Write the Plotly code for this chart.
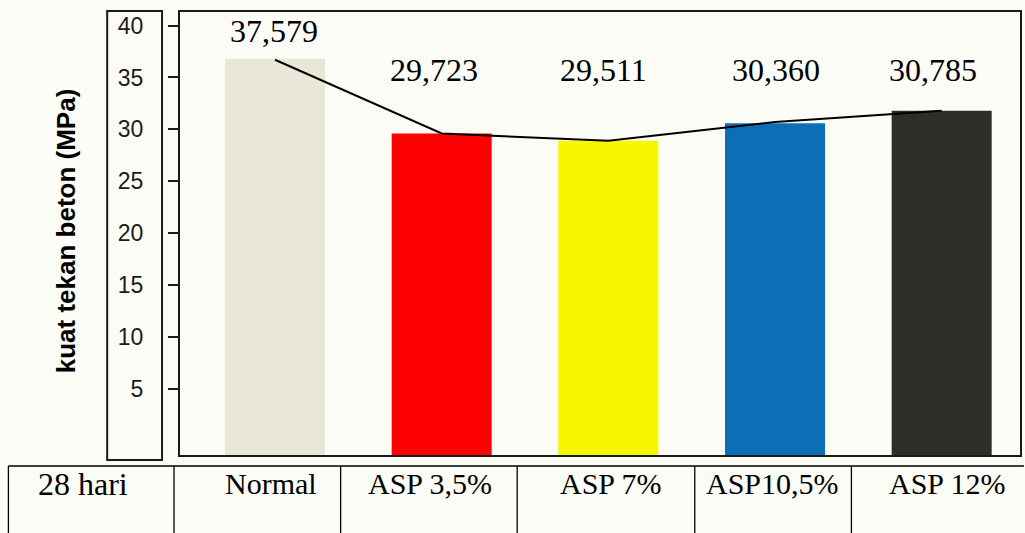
import plotly.graph_objects as go

# ---- data ----
categories = ["Normal", "ASP 3,5%", "ASP 7%", "ASP10,5%", "ASP 12%"]
bar_heights = [36.8, 29.6, 28.9, 30.6, 31.8]          # bar tops as drawn (MPa)
line_values = [36.7, 29.6, 28.9, 30.7, 31.8]          # trend line points
value_labels = ["37,579", "29,723", "29,511", "30,360", "30,785"]
y_tick_vals = [5, 10, 15, 20, 25, 30, 35, 40]
row_label = "28 hari"
y_title = "kuat tekan beton (MPa)"

bar_colors = ["#e8e7d8", "#ff0000", "#f7f700", "#0b6fb8", "#2e2d28"]

# ---- layout geometry (pixels) ----
W, H = 1025, 533
L, R, T, B = 180, 1022, 12, 455
Y_MIN, Y_MAX = -1.35, 41.3


def px_x(x):
    return (x - L) / (R - L)


def px_y(y):
    return (B - y) / (B - T)


fig = go.Figure()
fig.add_trace(go.Bar(
    x=categories,
    y=[v - Y_MIN for v in bar_heights],
    base=Y_MIN,
    marker=dict(color=bar_colors, line=dict(width=0)),
    width=0.6,
    showlegend=False,
))
fig.add_trace(go.Scatter(
    x=categories,
    y=line_values,
    mode="lines",
    line=dict(color="#000000", width=2),
    showlegend=False,
))

ann = []
# value labels
label_px = [(274, 31), (435, 70), (605, 70), (777, 70), (935, 70)]
for txt, (lx, ly) in zip(value_labels, label_px):
    ann.append(dict(x=px_x(lx), y=px_y(ly), xref="paper", yref="paper",
                    text=txt, showarrow=False, xanchor="center", yanchor="middle",
                    font=dict(family="Liberation Serif", size=32, color="#000000")))
# table labels
table_px = [271, 431, 612, 774, 949]
for txt, tx in zip(categories, table_px):
    ann.append(dict(x=px_x(tx), y=px_y(484), xref="paper", yref="paper",
                    text=txt, showarrow=False, xanchor="center", yanchor="middle",
                    font=dict(family="Liberation Serif", size=30, color="#000000")))
ann.append(dict(x=px_x(83), y=px_y(484), xref="paper", yref="paper",
                text=row_label, showarrow=False, xanchor="center", yanchor="middle",
                font=dict(family="Liberation Serif", size=32, color="#000000")))
# y title
ann.append(dict(x=px_x(66), y=px_y(231), xref="paper", yref="paper",
                text=y_title, showarrow=False, textangle=-90,
                xanchor="center", yanchor="middle",
                font=dict(family="Liberation Sans", size=26, color="#000000", weight="bold")))

shapes = []
# left tick box
shapes.append(dict(type="rect", xref="paper", yref="paper",
                   x0=px_x(107), x1=px_x(162), y0=px_y(460), y1=px_y(11),
                   line=dict(color="#1a1a1a", width=2)))
# table lines
shapes.append(dict(type="line", xref="paper", yref="paper",
                   x0=px_x(8), x1=px_x(1026), y0=px_y(466), y1=px_y(466),
                   line=dict(color="#000000", width=1.3)))
for vx in [8, 174, 341, 518, 696, 853]:
    shapes.append(dict(type="line", xref="paper", yref="paper",
                       x0=px_x(vx), x1=px_x(vx), y0=px_y(466), y1=px_y(540),
                       line=dict(color="#000000", width=1.3)))

fig.update_layout(
    width=W, height=H,
    margin=dict(l=L, r=W - R, t=T, b=H - B),
    paper_bgcolor="#fcfcf6",
    plot_bgcolor="#fcfcf6",
    annotations=ann,
    shapes=shapes,
    bargap=0.4,
)
fig.update_xaxes(
    range=[-0.57, 4.47], showticklabels=False, ticks="",
    showline=True, mirror=True, linecolor="#1a1a1a", linewidth=2,
    showgrid=False, zeroline=False,
)
fig.update_yaxes(
    range=[Y_MIN, Y_MAX], tickvals=y_tick_vals,
    ticks="outside", ticklen=10, tickwidth=2, tickcolor="#1a1a1a",
    ticklabelstandoff=20,
    tickfont=dict(family="Liberation Sans", size=23, color="#1a1a1a"),
    showline=True, mirror=True, linecolor="#1a1a1a", linewidth=2,
    showgrid=False, zeroline=False,
)

fig.write_html("out.html")
